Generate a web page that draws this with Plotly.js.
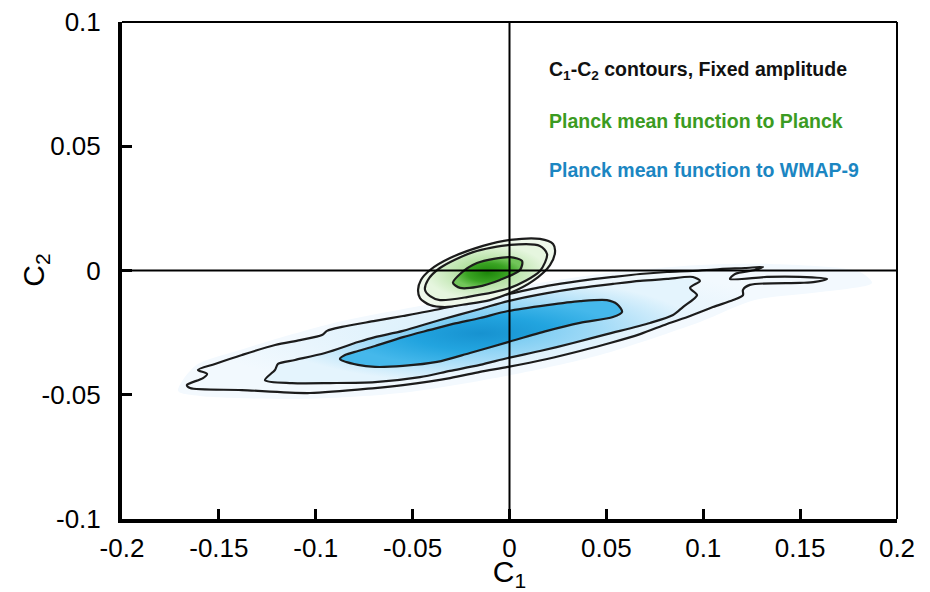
<!DOCTYPE html>
<html>
<head>
<meta charset="utf-8">
<script src="https://cdn.plot.ly/plotly-3.0.1.min.js"></script>
<style>
  html, body { margin: 0; padding: 0; background: #fff; }
  #chart { width: 930px; height: 592px; }
</style>
</head>
<body>
<div id="chart"></div>
<script>
// Axis ticks
const xTicks = [-0.2, -0.15, -0.1, -0.05, 0, 0.05, 0.1, 0.15, 0.2];
const xTickText = ['-0.2', '-0.15', '-0.1', '-0.05', '0', '0.05', '0.1', '0.15', '0.2'];
const yTicks = [-0.1, -0.05, 0, 0.05, 0.1];
const yTickText = ['-0.1', '-0.05', '0', '0.05', '0.1'];

// Planck mean function fitted to WMAP-9: faint density halo
const wmapHaloC1 = [-0.1710, -0.1623, -0.1391, -0.0926, -0.0359, 0.0003, 0.0467, 0.0983, 0.1345, 0.1809, 0.1871, 0.1603, 0.1267, 0.0983, 0.0467, 0.0003, -0.0565, -0.1081, -0.1597];
const wmapHaloC2 = [-0.0485, -0.0384, -0.0320, -0.0215, -0.0127, -0.0070, -0.0014, 0.0022, 0.0026, -0.0006, -0.0050, -0.0087, -0.0119, -0.0207, -0.0340, -0.0421, -0.0493, -0.0517, -0.0505];

// WMAP-9 outer contour
const wmapOuterC1 = [-0.1649, -0.1665, -0.1582, -0.1561, -0.1608, -0.1520, -0.1381, -0.1210, -0.1081, -0.0968, -0.0942, -0.0865, -0.0694, -0.0550, -0.0359, -0.0152, -0.0008, 0.0194, 0.0364, 0.0534, 0.0674, 0.0813, 0.0947, 0.1086, 0.1215, 0.1308, 0.1267, 0.1164, 0.1138, 0.1329, 0.1499, 0.1639, 0.1577, 0.1499, 0.1241, 0.1205, 0.1205, 0.1154, 0.1050, 0.0932, 0.0813, 0.0674, 0.0519, 0.0364, 0.0194, -0.0008, -0.0152, -0.0307, -0.0550, -0.0694, -0.1030, -0.1381];
const wmapOuterC2 = [-0.0473, -0.0461, -0.0433, -0.0416, -0.0400, -0.0376, -0.0340, -0.0300, -0.0280, -0.0260, -0.0243, -0.0227, -0.0203, -0.0183, -0.0155, -0.0119, -0.0095, -0.0062, -0.0042, -0.0026, -0.0014, -0.0006, -0.0002, 0.0006, 0.0010, 0.0014, 0.0002, -0.0014, -0.0034, -0.0026, -0.0026, -0.0034, -0.0046, -0.0050, -0.0058, -0.0078, -0.0099, -0.0119, -0.0147, -0.0183, -0.0215, -0.0256, -0.0292, -0.0324, -0.0356, -0.0388, -0.0408, -0.0433, -0.0461, -0.0473, -0.0493, -0.0481];

// WMAP-9 middle contour
const wmapMiddleC1 = [-0.1262, -0.1210, -0.1195, -0.1107, -0.0952, -0.0782, -0.0694, -0.0550, -0.0359, -0.0152, -0.0008, 0.0194, 0.0364, 0.0534, 0.0674, 0.0813, 0.0947, 0.0983, 0.0932, 0.0968, 0.0895, 0.0844, 0.0725, 0.0503, 0.0328, 0.0157, -0.0008, -0.0152, -0.0307, -0.0462, -0.0694, -0.0926, -0.1123];
const wmapMiddleC2 = [-0.0441, -0.0400, -0.0376, -0.0360, -0.0332, -0.0288, -0.0268, -0.0243, -0.0199, -0.0155, -0.0123, -0.0091, -0.0070, -0.0054, -0.0042, -0.0034, -0.0026, -0.0042, -0.0070, -0.0099, -0.0147, -0.0179, -0.0211, -0.0256, -0.0292, -0.0324, -0.0352, -0.0380, -0.0404, -0.0429, -0.0449, -0.0453, -0.0453];

// WMAP-9 inner contour
const wmapInnerC1 = [-0.0875, -0.0849, -0.0782, -0.0694, -0.0550, -0.0410, -0.0292, -0.0152, -0.0008, 0.0194, 0.0364, 0.0503, 0.0555, 0.0581, 0.0534, 0.0364, 0.0194, -0.0008, -0.0204, -0.0374, -0.0550, -0.0694, -0.0782];
const wmapInnerC2 = [-0.0356, -0.0340, -0.0324, -0.0304, -0.0268, -0.0239, -0.0215, -0.0191, -0.0163, -0.0139, -0.0123, -0.0119, -0.0135, -0.0167, -0.0187, -0.0211, -0.0243, -0.0288, -0.0332, -0.0368, -0.0384, -0.0388, -0.0380];

// Planck mean function fitted to Planck: outer, middle, inner contours
const planckOuterC1 = [-0.0472, -0.0457, -0.0410, -0.0307, -0.0137, 0.0003, 0.0157, 0.0225, 0.0235, 0.0209, 0.0121, 0.0003, -0.0101, -0.0219, -0.0333, -0.0410, -0.0462];
const planckOuterC2 = [-0.0078, -0.0038, 0.0002, 0.0050, 0.0099, 0.0123, 0.0127, 0.0107, 0.0074, 0.0022, -0.0042, -0.0091, -0.0119, -0.0135, -0.0147, -0.0139, -0.0111];
const planckMiddleC1 = [-0.0436, -0.0421, -0.0359, -0.0188, 0.0003, 0.0157, 0.0194, 0.0157, 0.0003, -0.0219, -0.0359, -0.0410];
const planckMiddleC2 = [-0.0078, -0.0038, 0.0010, 0.0074, 0.0103, 0.0099, 0.0066, -0.0002, -0.0070, -0.0107, -0.0119, -0.0103];
const planckInnerC1 = [-0.0292, -0.0255, -0.0168, 0.0003, 0.0065, 0.0054, -0.0049, -0.0168, -0.0255];
const planckInnerC2 = [-0.0050, -0.0014, 0.0030, 0.0054, 0.0038, 0.0002, -0.0038, -0.0066, -0.0070];

const lineColor = '#1c1c1c';

function region(xs, ys, fill, gradient, withLine) {
  const t = {
    type: 'scatter',
    mode: 'lines',
    x: xs.concat([xs[0]]),
    y: ys.concat([ys[0]]),
    fill: 'toself',
    fillcolor: fill,
    line: withLine
      ? { color: lineColor, width: 2.2, shape: 'spline', smoothing: 0.8 }
      : { color: 'rgba(0,0,0,0)', width: 0, shape: 'spline', smoothing: 0.8 },
    hoverinfo: 'skip',
    showlegend: false
  };
  if (gradient) {
    t.fillgradient = { type: 'radial', colorscale: gradient };
  }
  return t;
}

const traces = [
  region(wmapHaloC1, wmapHaloC2, '#f3f9fe', null, false),
  region(wmapOuterC1, wmapOuterC2, '#ebf6fd', [[0, '#d6eefb'], [1, '#f2f9fe']], true),
  region(wmapMiddleC1, wmapMiddleC2, '#a6dcf7', [[0, '#63c3ef'], [0.55, '#a3dbf7'], [1, '#e4f4fd']], true),
  region(wmapInnerC1, wmapInnerC2, '#27a7e1', [[0, '#1792d0'], [0.5, '#22a4df'], [1, '#45b8eb']], true),
  region(planckOuterC1, planckOuterC2, '#eff9eb', null, true),
  region(planckMiddleC1, planckMiddleC2, '#c9ebbb', [[0, '#94d47c'], [1, '#e6f6df']], true),
  region(planckInnerC1, planckInnerC2, '#3fa528', [[0, '#1d860a'], [0.6, '#3aa423'], [1, '#72c55a']], true)
];

const fontFamily = 'Liberation Sans, Arial, sans-serif';
const tickFont = { family: fontFamily, size: 26, color: '#000' };
const titleFont = { family: fontFamily, size: 30, color: '#000' };
const noteFont = (c) => ({ family: fontFamily, size: 19.5, color: c, weight: 'bold' });

const layout = {
  width: 930,
  height: 592,
  margin: { l: 122, r: 33, t: 22, b: 73 },
  paper_bgcolor: '#fff',
  plot_bgcolor: '#fff',
  showlegend: false,
  xaxis: {
    range: [-0.2, 0.2],
    tickmode: 'array',
    tickvals: xTicks,
    ticktext: xTickText,
    ticks: 'inside',
    ticklen: 10,
    tickwidth: 3,
    tickcolor: '#000',
    showline: true,
    linewidth: 4,
    linecolor: '#000',
    showgrid: false,
    zeroline: false,
    tickfont: tickFont,
    ticklabelstandoff: 3,
    layer: 'above traces',
    title: { text: 'C<sub>1</sub>', font: titleFont, standoff: 5 }
  },
  yaxis: {
    range: [-0.1, 0.1],
    tickmode: 'array',
    tickvals: yTicks,
    ticktext: yTickText,
    ticks: 'inside',
    ticklen: 10,
    tickwidth: 3,
    tickcolor: '#000',
    showline: true,
    linewidth: 4,
    linecolor: '#000',
    showgrid: false,
    zeroline: false,
    tickfont: tickFont,
    ticklabelstandoff: 12,
    layer: 'above traces'
  },
  shapes: [
    // frame on top and right
    { type: 'line', xref: 'paper', yref: 'paper', x0: 0, x1: 1, y0: 1, y1: 1, line: { color: '#000', width: 2 } },
    { type: 'line', xref: 'paper', yref: 'paper', x0: 1, x1: 1, y0: 0, y1: 1, line: { color: '#000', width: 2 } },
    // crosshair through the origin
    { type: 'line', xref: 'x', yref: 'paper', x0: 0, x1: 0, y0: 0, y1: 1, layer: 'above', line: { color: '#000', width: 2 } },
    { type: 'line', xref: 'paper', yref: 'y', x0: 0, x1: 1, y0: 0, y1: 0, layer: 'above', line: { color: '#000', width: 2 } }
  ],
  annotations: [
    // vertical axis title, set close to the tick labels
    { xref: 'paper', yref: 'paper', x: -0.112, y: 0.5, xanchor: 'center', yanchor: 'middle', showarrow: false,
      textangle: -90, text: 'C<sub>2</sub>', font: titleFont },
    { xref: 'paper', yref: 'paper', x: 0.548, y: 0.903, xanchor: 'left', yanchor: 'middle', showarrow: false,
      text: 'C<sub>1</sub>-C<sub>2</sub> contours, Fixed amplitude', font: noteFont('#111') },
    { xref: 'paper', yref: 'paper', x: 0.548, y: 0.801, xanchor: 'left', yanchor: 'middle', showarrow: false,
      text: 'Planck mean function to Planck', font: noteFont('#3b9b22') },
    { xref: 'paper', yref: 'paper', x: 0.548, y: 0.702, xanchor: 'left', yanchor: 'middle', showarrow: false,
      text: 'Planck mean function to WMAP-9', font: noteFont('#1b86c2') }
  ]
};

Plotly.newPlot('chart', traces, layout, { displayModeBar: false, staticPlot: true });
</script>
</body>
</html>
